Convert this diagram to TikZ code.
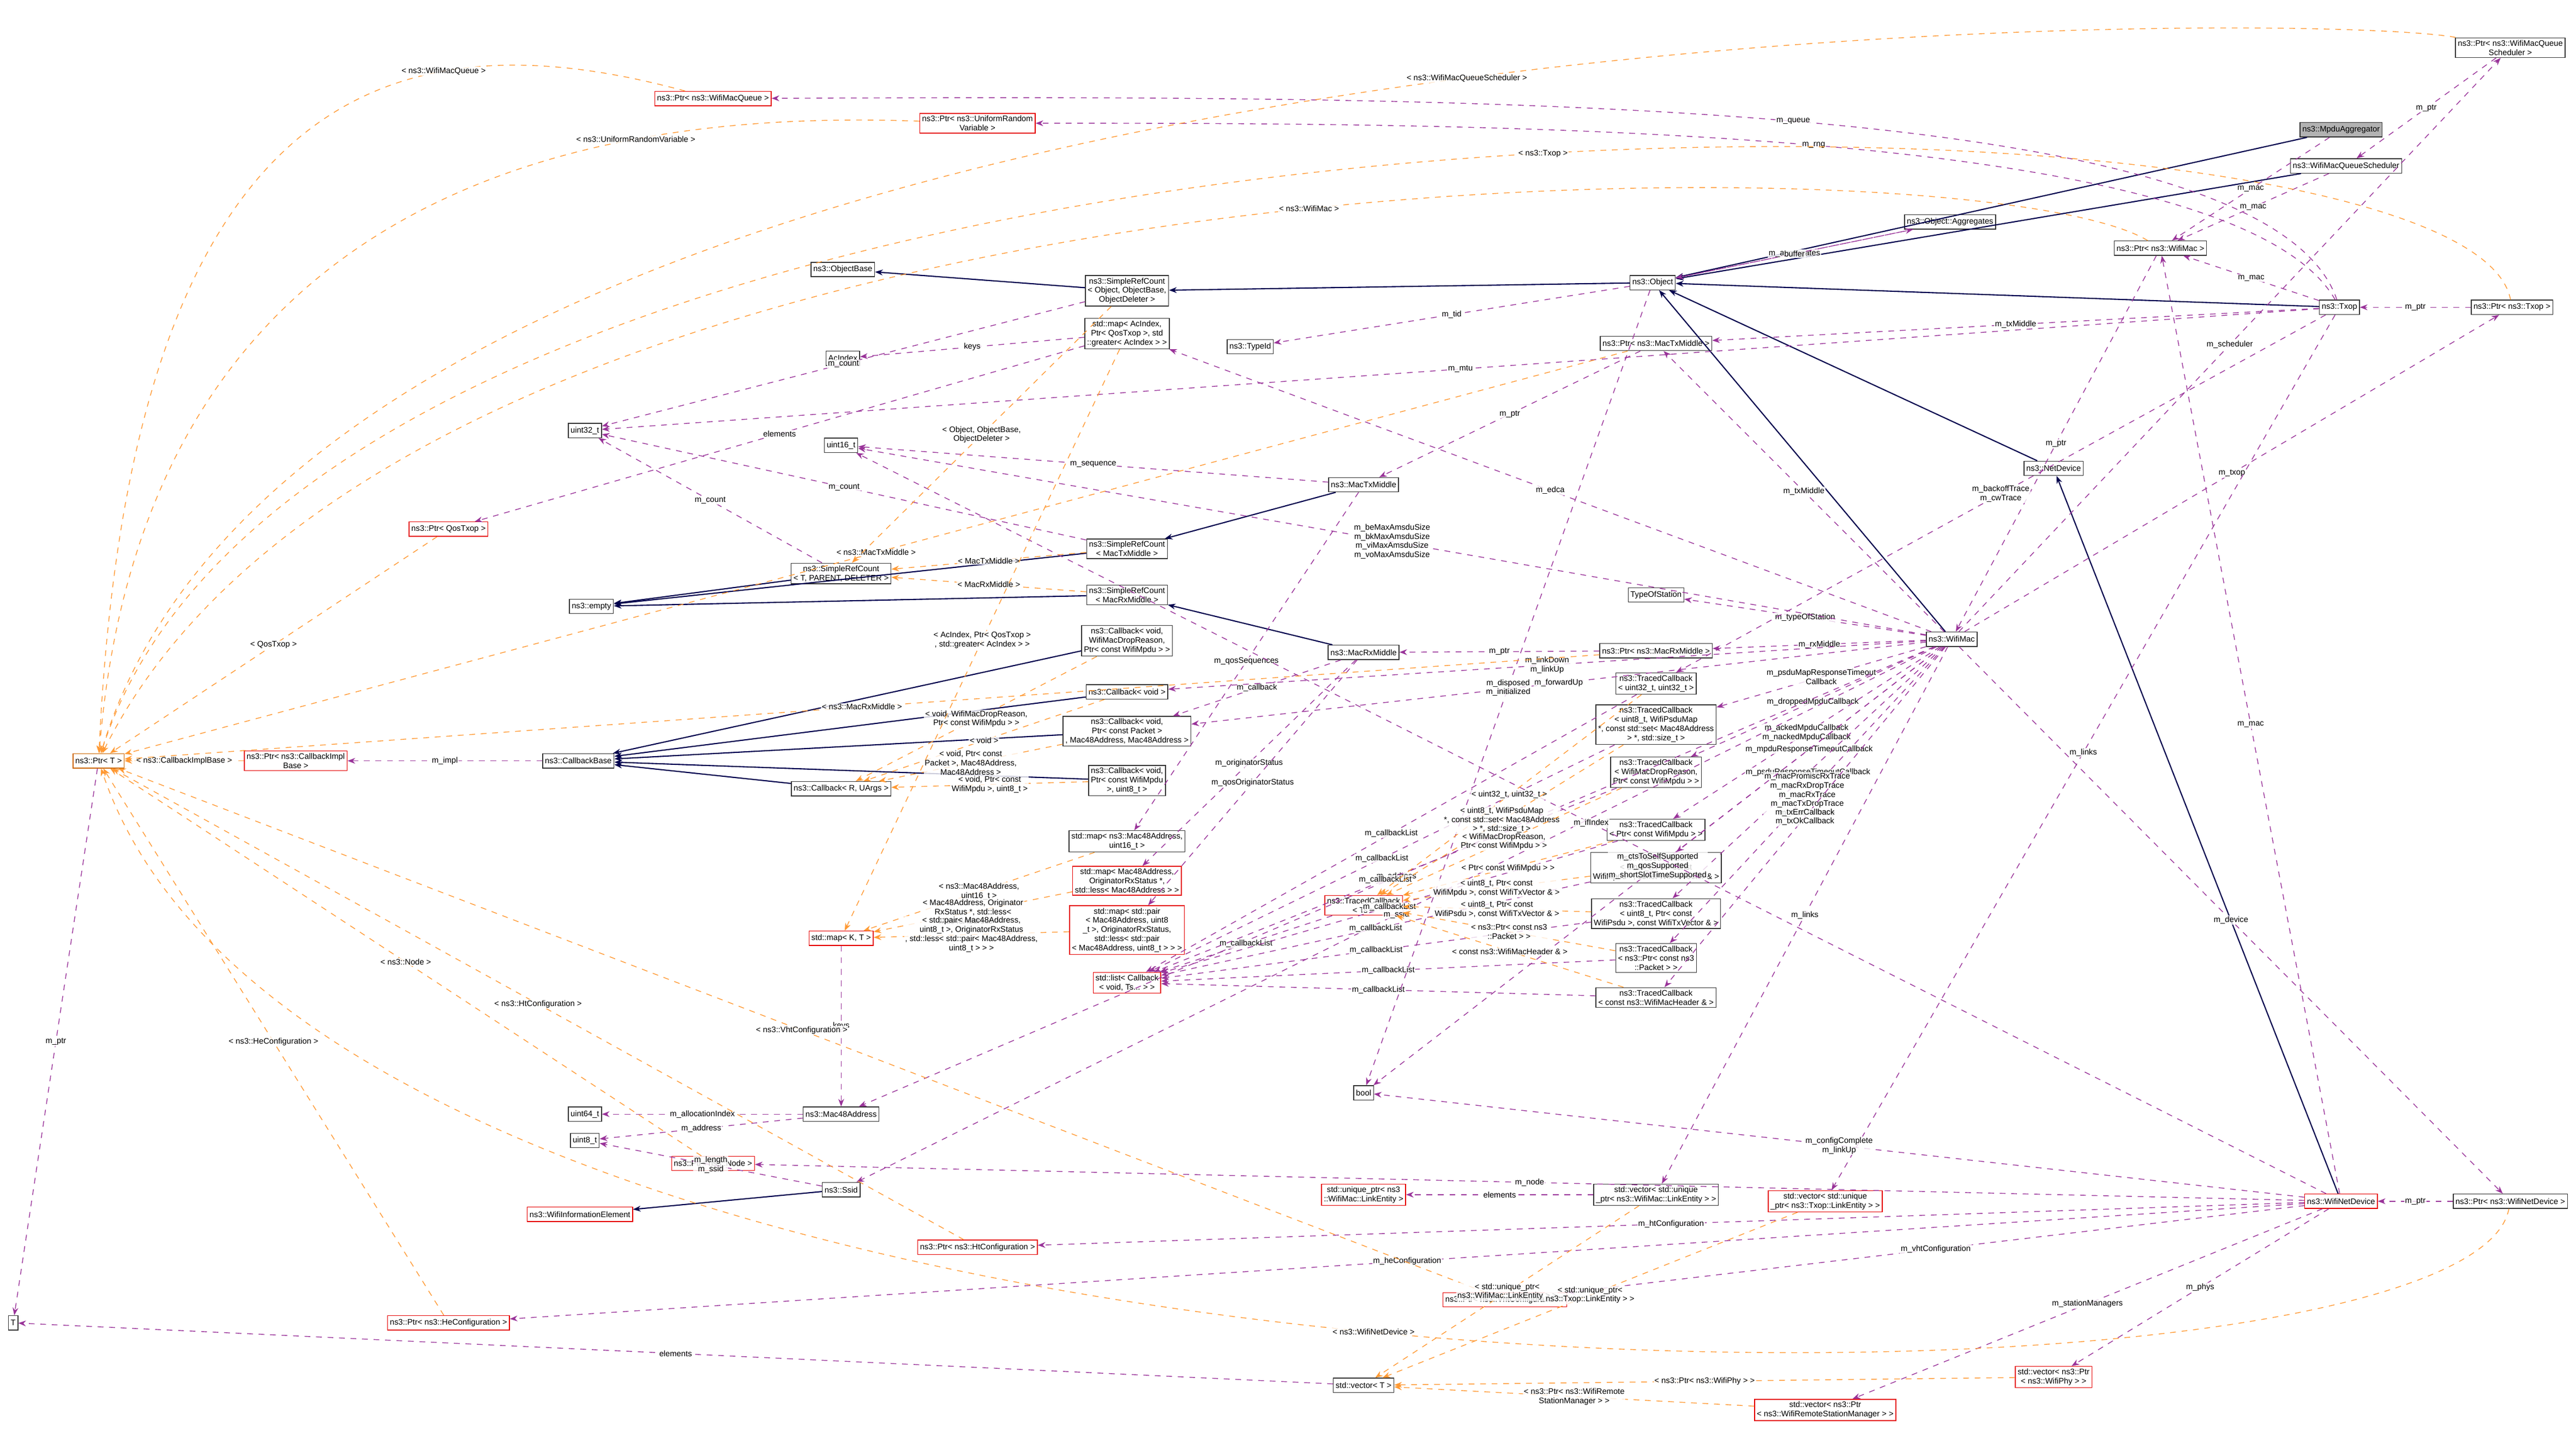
\documentclass[tikz,border=0pt]{standalone}
\usepackage{fontspec}
\setmainfont{Liberation Sans}
\usetikzlibrary{arrows.meta}
\tikzset{
  cls/.style={draw=black!80, fill=white, inner sep=1.2pt, minimum height=7.5pt, align=center, font=\fontsize{4.2}{4.8}\selectfont},
  redcls/.style={cls, draw=red!90!black},
  grycls/.style={cls, fill=black!30},
  inherit/.style={draw=blue!30!black, semithick, -{Stealth[length=4pt]}},
  member/.style={draw=violet!80, dashed, -{Stealth[length=4pt]}},
  tmpl/.style={draw=orange!80, dashed, -{Stealth[length=4pt]}},
  lbl/.style={font=\fontsize{4.2}{4.8}\selectfont, align=center, fill=white, fill opacity=0.8, text opacity=1, inner sep=0.5pt}
}
\begin{document}
\begin{tikzpicture}[x=0.3012mm, y=-0.3012mm]
\useasboundingbox (0,0) rectangle (1568,878);
% classes
\node[grycls] (agg) at (1425,79) {ns3::MpduAggregator};
\node[cls] (pqs) at (1528,29) {ns3::Ptr< ns3::WifiMacQueue\\Scheduler >};
\node[cls] (qs) at (1428,101) {ns3::WifiMacQueueScheduler};
\node[cls] (pmac) at (1315,151) {ns3::Ptr< ns3::WifiMac >};
\node[cls] (aggs) at (1187,135) {ns3::Object::Aggregates};
\node[cls] (obj) at (1006,172) {ns3::Object};
\node[cls] (txop) at (1424,187) {ns3::Txop};
\node[cls] (ptxop) at (1529,187) {ns3::Ptr< ns3::Txop >};
\node[redcls] (pqueue) at (434,60) {ns3::Ptr< ns3::WifiMacQueue >};
\node[redcls] (prng) at (595,75) {ns3::Ptr< ns3::UniformRandom\\Variable >};
\node[cls] (objb) at (513,164) {ns3::ObjectBase};
\node[cls] (srcobj) at (686,177) {ns3::SimpleRefCount\\< Object, ObjectBase,\\ObjectDeleter >};
\node[cls] (edca) at (686,203) {std::map< AcIndex,\\Ptr< QosTxop >, std\\::greater< AcIndex > >};
\node[cls] (acidx) at (513,218) {AcIndex};
\node[cls] (tid) at (761,211) {ns3::TypeId};
\node[cls] (ptxm) at (1008,209) {ns3::Ptr< ns3::MacTxMiddle >};
\node[cls] (u32) at (356,262) {uint32\_t};
\node[cls] (u16) at (512,271) {uint16\_t};
\node[cls] (netdev) at (1250,285) {ns3::NetDevice};
\node[cls] (txm) at (830,295) {ns3::MacTxMiddle};
\node[redcls] (pqos) at (273,322) {ns3::Ptr< QosTxop >};
\node[cls] (srctx) at (686,334) {ns3::SimpleRefCount\\< MacTxMiddle >};
\node[cls] (srct) at (512,349) {ns3::SimpleRefCount\\< T, PARENT, DELETER >};
\node[cls] (srcrx) at (686,362) {ns3::SimpleRefCount\\< MacRxMiddle >};
\node[cls] (tos) at (1008,362) {TypeOfStation};
\node[cls] (empty) at (360,369) {ns3::empty};
\node[cls] (mac) at (1188,389) {ns3::WifiMac};
\node[cls] (cbdrop) at (686,390) {ns3::Callback< void,\\WifiMacDropReason,\\Ptr< const WifiMpdu > >};
\node[cls] (rxm) at (830,397) {ns3::MacRxMiddle};
\node[cls] (prxm) at (1008,396) {ns3::Ptr< ns3::MacRxMiddle >};
\node[cls] (cbvoid) at (686,421) {ns3::Callback< void >};
\node[cls] (tc1) at (1008,416) {ns3::TracedCallback\\< uint32\_t, uint32\_t >};
\node[cls] (tc2) at (1008,441) {ns3::TracedCallback\\< uint8\_t, WifiPsduMap\\*, const std::set< Mac48Address\\> *, std::size\_t >};
\node[cls] (cbpkt) at (686,445) {ns3::Callback< void,\\Ptr< const Packet >\\, Mac48Address, Mac48Address >};
\node[cls, draw=orange!80!black] (ptr) at (60,463) {ns3::Ptr< T >};
\node[redcls] (pimpl) at (180,463) {ns3::Ptr< ns3::CallbackImpl\\Base >};
\node[cls] (cbbase) at (352,463) {ns3::CallbackBase};
\node[cls] (tc3) at (1008,470) {ns3::TracedCallback\\< WifiMacDropReason,\\Ptr< const WifiMpdu > >};
\node[cls] (cbmpdu) at (686,475) {ns3::Callback< void,\\Ptr< const WifiMpdu\\>, uint8\_t >};
\node[cls] (cbru) at (512,480) {ns3::Callback< R, UArgs >};
\node[cls] (tc4) at (1008,505) {ns3::TracedCallback\\< Ptr< const WifiMpdu > >};
\node[cls] (mapseq) at (686,512) {std::map< ns3::Mac48Address,\\uint16\_t >};
\node[cls] (tc5) at (1008,528) {ns3::TracedCallback\\< uint8\_t, Ptr< const\\WifiMpdu >, const WifiTxVector \& >};
\node[redcls] (maporig) at (686,536) {std::map< Mac48Address,\\OriginatorRxStatus *,\\std::less< Mac48Address > >};
\node[redcls] (tcts) at (830,551) {ns3::TracedCallback\\< Ts >};
\node[cls] (tc6) at (1008,556) {ns3::TracedCallback\\< uint8\_t, Ptr< const\\WifiPsdu >, const WifiTxVector \& >};
\node[redcls] (mappair) at (686,566) {std::map< std::pair\\< Mac48Address, uint8\\\_t >, OriginatorRxStatus,\\std::less< std::pair\\< Mac48Address, uint8\_t > > >};
\node[redcls] (mapkt) at (512,571) {std::map< K, T >};
\node[cls] (tc7) at (1008,583) {ns3::TracedCallback\\< ns3::Ptr< const ns3\\::Packet > >};
\node[redcls] (cblist) at (686,598) {std::list< Callback\\< void, Ts... > >};
\node[cls] (tc8) at (1008,607) {ns3::TracedCallback\\< const ns3::WifiMacHeader \& >};
\node[cls] (bool) at (830,665) {bool};
\node[cls] (u64) at (356,678) {uint64\_t};
\node[cls] (mac48) at (512,678) {ns3::Mac48Address};
\node[cls] (u8) at (356,694) {uint8\_t};
\node[redcls] (pnode) at (434,708) {ns3::Ptr< ns3::Node >};
\node[cls] (ssid) at (512,724) {ns3::Ssid};
\node[redcls] (wie) at (353,739) {ns3::WifiInformationElement};
\node[redcls] (uptr) at (830,727) {std::unique\_ptr< ns3\\::WifiMac::LinkEntity >};
\node[cls] (vlink) at (1008,727) {std::vector< std::unique\\\_ptr< ns3::WifiMac::LinkEntity > >};
\node[redcls] (vtlink) at (1111,731) {std::vector< std::unique\\\_ptr< ns3::Txop::LinkEntity > >};
\node[redcls] (wnd) at (1425,731) {ns3::WifiNetDevice};
\node[cls] (pwnd) at (1528,731) {ns3::Ptr< ns3::WifiNetDevice >};
\node[redcls] (pht) at (595,759) {ns3::Ptr< ns3::HtConfiguration >};
\node[redcls] (pvht) at (916,791) {ns3::Ptr< ns3::VhtConfiguration >};
\node[redcls] (phe) at (273,805) {ns3::Ptr< ns3::HeConfiguration >};
\node[cls] (T) at (8,805) {T};
\node[cls] (vec) at (830,843) {std::vector< T >};
\node[redcls] (vphy) at (1250,838) {std::vector< ns3::Ptr\\< ns3::WifiPhy > >};
\node[redcls] (vrsm) at (1111,858) {std::vector< ns3::Ptr\\< ns3::WifiRemoteStationManager > >};
% inheritance
\foreach \d/\b in {agg/obj, qs/obj, txop/obj, netdev/obj, mac/obj, obj/srcobj, srcobj/objb,
  txm/srctx, rxm/srcrx, srctx/empty, srcrx/empty, srct/empty, cbdrop/cbbase, cbvoid/cbbase,
  cbpkt/cbbase, cbmpdu/cbbase, cbru/cbbase, wnd/netdev, ssid/wie}
  \draw[inherit] (\d) -- (\b);
% members
\foreach \o/\m/\t in {agg/pmac/m\_mac, qs/pmac/m\_mac, txop/pmac/m\_mac, pqs/qs/m\_ptr,
  pmac/mac/m\_ptr, ptxop/txop/m\_ptr, pwnd/wnd/m\_ptr, obj/aggs/m\_aggregates, aggs/obj/buffer,
  obj/tid/m\_tid, srcobj/u32/m\_count, srctx/u32/m\_count, srct/u32/m\_count, txop/ptxm/m\_txMiddle,
  ptxm/txm/m\_ptr, prxm/rxm/m\_ptr, mac/prxm/m\_rxMiddle, txm/mapseq/m\_qosSequences,
  txm/u16/m\_sequence, rxm/cbpkt/m\_callback, rxm/maporig/m\_originatorStatus,
  rxm/mappair/m\_qosOriginatorStatus, mac/tos/m\_typeOfStation, mac/cbvoid/{m\_linkDown\\m\_linkUp},
  mac/cbpkt/m\_forwardUp, txop/tc1/{m\_backoffTrace\\m\_cwTrace}, mac/tc2/m\_psduMapResponseTimeout\\Callback,
  mac/tc3/m\_droppedMpduCallback, mac/tc4/{m\_ackedMpduCallback\\m\_nackedMpduCallback},
  mac/tc5/m\_mpduResponseTimeoutCallback, mac/tc6/m\_psduResponseTimeoutCallback,
  mac/tc7/{m\_macPromiscRxTrace\\m\_macRxDropTrace\\m\_macRxTrace\\m\_macTxDropTrace\\m\_macTxTrace},
  mac/tc8/{m\_txErrCallback\\m\_txOkCallback},
  mac/bool/{m\_ctsToSelfSupported\\m\_qosSupported\\m\_shortSlotTimeSupported},
  mac/mac48/m\_address, mac/ssid/m\_ssid, mac/vlink/m\_links, mac/pwnd/m\_device,
  mac/ptxop/m\_txop, mac/edca/m\_edca, mac/pqs/m\_scheduler, mac/ptxm/m\_txMiddle,
  mac/u16/{m\_beMaxAmsduSize\\m\_bkMaxAmsduSize\\m\_viMaxAmsduSize\\m\_voMaxAmsduSize},
  txop/vtlink/m\_links, txop/u32/m\_mtu,
  wnd/pnode/m\_node, wnd/pht/m\_htConfiguration, wnd/pvht/m\_vhtConfiguration,
  wnd/phe/m\_heConfiguration, wnd/vphy/m\_phys, wnd/vrsm/m\_stationManagers, wnd/pmac/m\_mac,
  wnd/bool/{m\_configComplete\\m\_linkUp}, wnd/u16/m\_ifIndex, cbbase/pimpl/m\_impl,
  tcts/cblist/m\_callbackList, tc1/cblist/m\_callbackList, tc2/cblist/m\_callbackList,
  tc3/cblist/m\_callbackList, tc4/cblist/m\_callbackList, tc5/cblist/m\_callbackList,
  tc6/cblist/m\_callbackList, tc7/cblist/m\_callbackList, tc8/cblist/m\_callbackList,
  vlink/uptr/elements, vec/T/elements, mapkt/mac48/keys, edca/acidx/keys, edca/pqos/elements,
  ptr/T/m\_ptr, mac48/u8/m\_address, mac48/u64/m\_allocationIndex, ssid/u8/{m\_length\\m\_ssid},
  obj/bool/{m\_disposed\\m\_initialized}}
  \draw[member] (\o) -- node[lbl] {\t} (\m);
% members routed along the top
\draw[member] (txop) .. controls (1380,58) and (900,58) .. node[lbl] {m\_queue} (pqueue);
\draw[member] (txop) .. controls (1360,75) and (900,75) .. node[lbl] {m\_rng} (prng);
% template instances
\foreach \i/\g/\t in {
  ptxm/ptr/{< ns3::MacTxMiddle >}, pqos/ptr/{< QosTxop >}, pimpl/ptr/{< ns3::CallbackImplBase >},
  prxm/ptr/{< ns3::MacRxMiddle >}, pnode/ptr/{< ns3::Node >}, pht/ptr/{< ns3::HtConfiguration >},
  pvht/ptr/{< ns3::VhtConfiguration >}, phe/ptr/{< ns3::HeConfiguration >},
  srcobj/srct/{< Object, ObjectBase,\\ObjectDeleter >},
  srctx/srct/{< MacTxMiddle >}, srcrx/srct/{< MacRxMiddle >},
  cbdrop/cbru/{< void, WifiMacDropReason,\\Ptr< const WifiMpdu > >}, cbvoid/cbru/{< void >},
  cbpkt/cbru/{< void, Ptr< const\\Packet >, Mac48Address,\\Mac48Address >},
  cbmpdu/cbru/{< void, Ptr< const\\WifiMpdu >, uint8\_t >},
  edca/mapkt/{< AcIndex, Ptr< QosTxop >\\, std::greater< AcIndex > >},
  mapseq/mapkt/{< ns3::Mac48Address,\\uint16\_t >},
  maporig/mapkt/{< Mac48Address, Originator\\RxStatus *, std::less<\\Mac48Address > >},
  mappair/mapkt/{< std::pair< Mac48Address,\\uint8\_t >, OriginatorRxStatus\\, std::less< std::pair< Mac48Address,\\uint8\_t > > >},
  tc1/tcts/{< uint32\_t, uint32\_t >}, tc2/tcts/{< uint8\_t, WifiPsduMap\\*, const std::set< Mac48Address\\> *, std::size\_t >},
  tc3/tcts/{< WifiMacDropReason,\\Ptr< const WifiMpdu > >}, tc4/tcts/{< Ptr< const WifiMpdu > >},
  tc5/tcts/{< uint8\_t, Ptr< const\\WifiMpdu >, const WifiTxVector \& >},
  tc6/tcts/{< uint8\_t, Ptr< const\\WifiPsdu >, const WifiTxVector \& >},
  tc7/tcts/{< ns3::Ptr< const ns3\\::Packet > >}, tc8/tcts/{< const ns3::WifiMacHeader \& >},
  vlink/vec/{< std::unique\_ptr<\\ns3::WifiMac::LinkEntity > >},
  vtlink/vec/{< std::unique\_ptr<\\ns3::Txop::LinkEntity > >},
  vphy/vec/{< ns3::Ptr< ns3::WifiPhy > >},
  vrsm/vec/{< ns3::Ptr< ns3::WifiRemote\\StationManager > >}}
  \draw[tmpl] (\i) -- node[lbl] {\t} (\g);
% template instances routed along the top and bottom
\draw[tmpl] (pqueue) .. controls (250,10) and (80,40) .. node[lbl, pos=0.3] {< ns3::WifiMacQueue >} (ptr);
\draw[tmpl] (prng) .. controls (400,68) and (90,90) .. node[lbl, pos=0.3] {< ns3::UniformRandomVariable >} (ptr);
\draw[tmpl] (pqs) .. controls (1400,5) and (200,0) .. node[lbl, pos=0.45] {< ns3::WifiMacQueueScheduler >} (ptr);
\draw[tmpl] (ptxop) .. controls (1500,32) and (200,25) .. node[lbl, pos=0.45] {< ns3::Txop >} (ptr);
\draw[tmpl] (pmac) .. controls (1200,82) and (250,82) .. node[lbl, pos=0.45] {< ns3::WifiMac >} (ptr);
\draw[tmpl] (pwnd) .. controls (1500,880) and (200,880) .. node[lbl, pos=0.5] {< ns3::WifiNetDevice >} (ptr);
\end{tikzpicture}
\end{document}
